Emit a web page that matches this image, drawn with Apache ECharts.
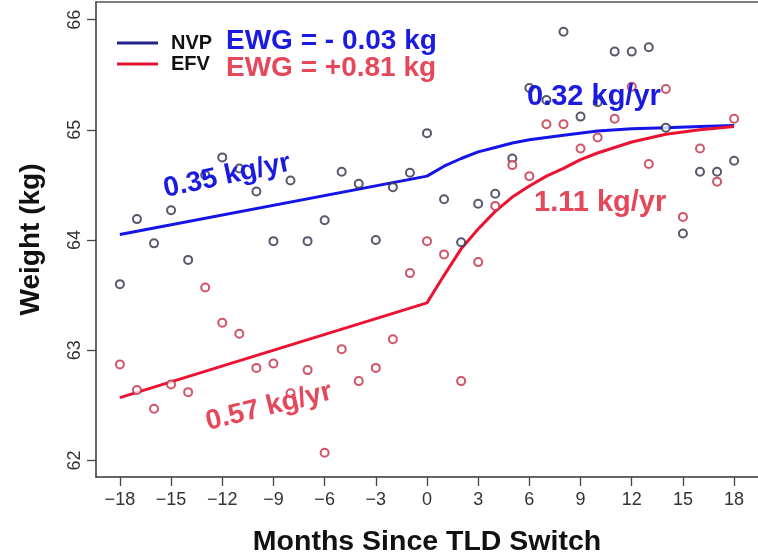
<!DOCTYPE html>
<html>
<head>
<meta charset="utf-8">
<script src="https://cdn.jsdelivr.net/npm/echarts@6/dist/echarts.min.js"></script>
<style>
  html, body { margin: 0; padding: 0; background: #ffffff; }
  #chart { width: 758px; height: 558px; }
</style>
</head>
<body>
<div id="chart"></div>
<script>
// Monthly mean weights around the TLD switch (month 0)
const months = [-18, -17, -16, -15, -14, -13, -12, -11, -10, -9, -8, -7, -6, -5, -4, -3, -2, -1,
                0, 1, 2, 3, 4, 5, 6, 7, 8, 9, 10, 11, 12, 13, 14, 15, 16, 17, 18];
const nvpWeight = [63.60, 64.19, 63.97, 64.27, 63.82, 64.59, 64.75, 64.65, 64.44, 63.99, 64.54, 63.99,
                   64.18, 64.62, 64.51, 64.00, 64.48, 64.61, 64.97, 64.37, 63.98, 64.33, 64.42, 64.74,
                   65.38, 65.27, 65.89, 65.12, 65.25, 65.71, 65.71, 65.75, 65.02, 64.06, 64.62, 64.62, 64.72];
const efvWeight = [62.87, 62.64, 62.47, 62.69, 62.62, 63.57, 63.25, 63.15, 62.84, 62.88, 62.61, 62.82,
                   62.07, 63.01, 62.72, 62.84, 63.10, 63.70, 63.99, 63.87, 62.72, 63.80, 64.31, 64.68,
                   64.58, 65.05, 65.05, 64.83, 64.93, 65.10, 65.39, 64.69, 65.37, 64.21, 64.83, 64.53, 65.10];

// Fitted trajectories
const nvpFitMonths = [-18, 0, 1, 2, 3, 4, 5, 6, 8, 10, 12, 14, 16, 18];
const nvpFit = [64.05, 64.58, 64.67, 64.74, 64.80, 64.84, 64.88, 64.91, 64.95, 64.99, 65.01, 65.02, 65.03, 65.04];
const efvFitMonths = [-18, 0, 1, 2, 3, 4, 5, 6, 7, 8, 9, 10, 12, 14, 16, 18];
const efvFit = [62.57, 63.43, 63.68, 63.92, 64.10, 64.26, 64.39, 64.49, 64.58, 64.65, 64.73, 64.79, 64.89, 64.96, 65.00, 65.03];

// Axis ticks
const xTicks = [-18, -15, -12, -9, -6, -3, 0, 3, 6, 9, 12, 15, 18];
const yTicks = [62, 63, 64, 65, 66];

const pairs = (xs, ys) => xs.map((x, i) => [x, ys[i]]);

const FONT = '"Liberation Sans", Arial, Helvetica, sans-serif';
const BLUE_LINE = '#1414e6';
const RED_LINE = '#ec1232';
const BLUE_TEXT = '#1a1ae0';
const RED_TEXT = '#e4485a';

const chart = echarts.init(document.getElementById('chart'), null, { renderer: 'canvas' });

chart.setOption({
  animation: false,
  backgroundColor: '#ffffff',
  grid: { left: 96, right: 0, top: 2, bottom: 81, containLabel: false, outerBoundsMode: 'none' },
  legend: {
    data: ['NVP', 'EFV'],
    orient: 'vertical',
    left: 112,
    top: 28,
    icon: 'rect',
    itemWidth: 41,
    itemHeight: 3,
    itemGap: 1,
    textStyle: { fontFamily: FONT, fontWeight: 'bold', fontSize: 20, color: '#111', lineHeight: 20, padding: [0, 0, 0, 8] }
  },
  xAxis: [{
    type: 'value',
    min: -19.4,
    max: 19.4,
    position: 'bottom',
    name: 'Months Since TLD Switch',
    nameLocation: 'middle',
    nameGap: 51,
    nameTextStyle: { fontFamily: FONT, fontWeight: 'bold', fontSize: 28.5, color: '#111' },
    axisLine: { show: true, onZero: false, lineStyle: { color: '#333', width: 1.5 } },
    axisTick: { show: true, inside: false, length: 9, customValues: xTicks, lineStyle: { color: '#444', width: 1.3 } },
    axisLabel: {
      customValues: xTicks,
      margin: 14,
      fontFamily: FONT, fontSize: 18, color: '#333',
      formatter: v => String(v).replace('-', '\u2212')
    },
    splitLine: { show: false }
  }, {
    type: 'value',
    min: -19.4,
    max: 19.4,
    position: 'top',
    axisLine: { show: true, onZero: false, lineStyle: { color: '#555', width: 1.5 } },
    axisTick: { show: false },
    axisLabel: { show: false },
    splitLine: { show: false }
  }],
  yAxis: {
    type: 'value',
    min: 61.85,
    max: 66.16,
    name: 'Weight (kg)',
    nameLocation: 'middle',
    nameGap: 51,
    nameTextStyle: { fontFamily: FONT, fontWeight: 'bold', fontSize: 28, color: '#111' },
    axisLine: { show: true, onZero: false, lineStyle: { color: '#333', width: 1.5 } },
    axisTick: { show: true, inside: false, length: 9, customValues: yTicks, lineStyle: { color: '#444', width: 1.3 } },
    axisLabel: {
      customValues: yTicks,
      rotate: 90,
      margin: 12,
      fontFamily: FONT, fontSize: 18, color: '#333'
    },
    splitLine: { show: false }
  },
  series: [
    {
      name: 'NVP', type: 'line', data: pairs(nvpFitMonths, nvpFit),
      showSymbol: false, symbol: 'none', smooth: false,
      lineStyle: { color: BLUE_LINE, width: 3 }, itemStyle: { color: '#22228a' }, z: 2
    },
    {
      name: 'EFV', type: 'line', data: pairs(efvFitMonths, efvFit),
      showSymbol: false, symbol: 'none', smooth: false,
      lineStyle: { color: RED_LINE, width: 3 }, itemStyle: { color: '#e0142e' }, z: 2
    },
    {
      name: 'NVP weight', type: 'scatter', data: pairs(months, nvpWeight),
      symbol: 'emptyCircle', symbolSize: 8,
      itemStyle: { color: '#2e2e48', borderWidth: 1.7 }, z: 3
    },
    {
      name: 'EFV weight', type: 'scatter', data: pairs(months, efvWeight),
      symbol: 'emptyCircle', symbolSize: 8,
      itemStyle: { color: '#c42a44', borderWidth: 1.7 }, z: 3
    }
  ],
  graphic: [
    { type: 'text', left: 226, top: 27, z: 10,
      style: { text: 'EWG = - 0.03 kg', fill: BLUE_TEXT, font: 'bold 28px ' + FONT } },
    { type: 'text', left: 226, top: 54, z: 10,
      style: { text: 'EWG = +0.81 kg', fill: RED_TEXT, font: 'bold 28px ' + FONT } },
    { type: 'text', left: 527, top: 82, z: 10,
      style: { text: '0.32 kg/yr', fill: BLUE_TEXT, font: 'bold 29px ' + FONT } },
    { type: 'text', left: 534, top: 188, z: 10,
      style: { text: '1.11 kg/yr', fill: RED_TEXT, font: 'bold 29px ' + FONT } },
    { type: 'text', x: 227, y: 176, rotation: 12 * Math.PI / 180, z: 10,
      style: { text: '0.35 kg/yr', fill: BLUE_TEXT, font: 'bold 28px ' + FONT, align: 'center', verticalAlign: 'middle' } },
    { type: 'text', x: 269, y: 407, rotation: 14 * Math.PI / 180, z: 10,
      style: { text: '0.57 kg/yr', fill: RED_TEXT, font: 'bold 28px ' + FONT, align: 'center', verticalAlign: 'middle' } }
  ]
});
</script>
</body>
</html>
